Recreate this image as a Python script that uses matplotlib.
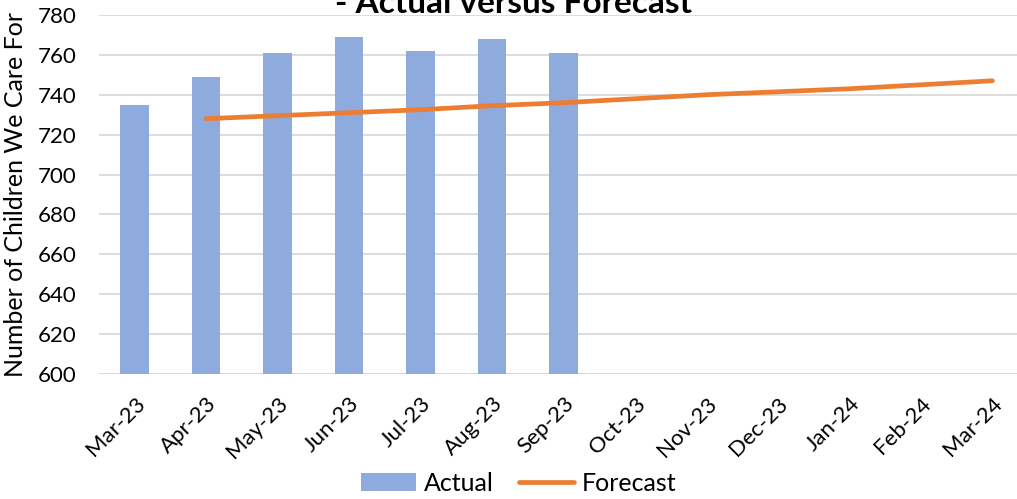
import matplotlib.pyplot as plt

plt.rcParams['font.family'] = ['Lato', 'DejaVu Sans']

# monthly actuals and forecast
months = ['Mar-23', 'Apr-23', 'May-23', 'Jun-23', 'Jul-23', 'Aug-23', 'Sep-23',
          'Oct-23', 'Nov-23', 'Dec-23', 'Jan-24', 'Feb-24', 'Mar-24']
actual = [735, 749, 761, 769, 762, 768, 761]
forecast = [728, 729.5, 731, 732.5, 734.5, 736, 738, 740, 741.5, 743, 745, 747]

bar_color = '#8FAADC'
line_color = '#ED7D31'
grid_color = '#D9D9D9'

fig = plt.figure(figsize=(10.17, 4.99), dpi=100)
ax = fig.add_axes([0.0973, 0.2505, 0.9137, 0.7195])

x = list(range(len(months)))
bars = ax.bar(x[:len(actual)], actual, width=0.4, color=bar_color, label='Actual', zorder=2)
line, = ax.plot(x[1:], forecast, color=line_color, lw=3.4, solid_capstyle='round',
                label='Forecast', zorder=3)

ax.set_xlim(-0.5, len(months) - 0.5)
ax.set_ylim(600, 780)
ax.set_yticks(range(600, 781, 20))
ax.set_xticks(x)
ax.set_xticklabels(months, rotation=45, ha='right', rotation_mode='anchor', fontsize=16)
ax.tick_params(axis='y', labelsize=16, length=0, pad=16)
ax.tick_params(axis='x', length=0, pad=14)

ax.grid(axis='y', color=grid_color, lw=1.3, zorder=0)
for s in ax.spines.values():
    s.set_visible(False)
ax.axhline(600, color=grid_color, lw=1.3, zorder=1)

ax.set_ylabel('Number of Children We Care For', fontsize=18, labelpad=8)

fig.text(0.505, 0.974, '- Actual versus Forecast', ha='center', va='baseline',
         fontsize=24, fontweight='bold')

fig.legend([bars, line], ['Actual', 'Forecast'], loc='center',
           bbox_to_anchor=(0.51, 0.032), ncol=2, frameon=False,
           fontsize=18, handlelength=2.2, columnspacing=1.0, handletextpad=0.3)

plt.savefig('out.png', dpi=100)
